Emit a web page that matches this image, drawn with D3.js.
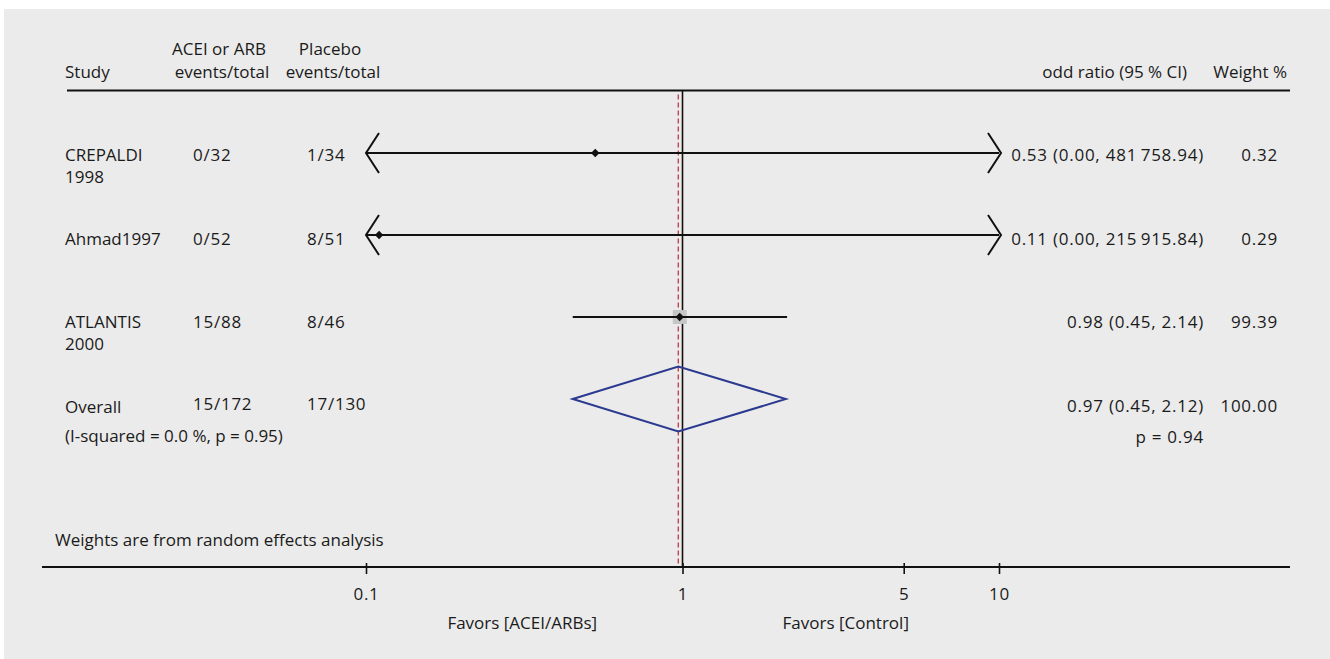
<!DOCTYPE html>
<html>
<head>
<meta charset="utf-8">
<script src="https://cdn.jsdelivr.net/npm/d3@7"></script>
<style>
  html, body { margin: 0; padding: 0; background: #ffffff; }
  svg { display: block; }
  text { font-family: "Open Sans", "Noto Sans", sans-serif; font-size: 17px; fill: #1a1a1a; }
  text.num { letter-spacing: 0.75px; }
</style>
</head>
<body>
<svg id="chart" width="1330" height="659"></svg>
<script>
// Study rows of the forest plot
const studyNames = [["CREPALDI", "1998"], ["Ahmad1997"], ["ATLANTIS", "2000"]];
const treatEvents = ["0/32", "0/52", "15/88"];
const controlEvents = ["1/34", "8/51", "8/46"];
const oddsRatios = [0.53, 0.11, 0.98];
const ciLower = [0.00, 0.00, 0.45];
const ciUpper = [481758.94, 215915.84, 2.14];
const weights = [0.32, 0.29, 99.39];

// Pooled (random effects) estimate
const overallLabel = ["Overall", "(I-squared = 0.0 %, p = 0.95)"];
const overallTreat = "15/172";
const overallControl = "17/130";
const overallOR = 0.97;
const overallLower = 0.45;
const overallUpper = 2.12;
const overallWeight = 100.00;
const overallP = "p = 0.94";

// Axis
const tickValues = [0.1, 1, 5, 10];
const tickLabels = ["0.1", "1", "5", "10"];
const favorLabels = ["Favors [ACEI/ARBs]", "Favors [Control]"];

const headers = {
  study: "Study",
  treat: ["ACEI or ARB", "events/total"],
  control: ["Placebo", "events/total"],
  ci: "odd ratio (95 % CI)",
  weight: "Weight %",
  note: "Weights are from random effects analysis"
};

const svg = d3.select("#chart");
svg.append("rect").attr("x", 4).attr("y", 9).attr("width", 1326).attr("height", 650).attr("fill", "#ebebeb");

const x = d3.scaleLog().domain([0.1, 10]).range([366, 999]);
const nRows = oddsRatios.length + 1;
const markY = d3.scalePoint().domain(d3.range(nRows)).range([153, 399]);
const textY = d3.scalePoint().domain(d3.range(nRows)).range([161, 412]);

const fmt2 = d3.format(".2f");
const fmtBig = v => {
  const s = fmt2(v);
  const [intPart, dec] = s.split(".");
  return intPart.replace(/\B(?=(\d{3})+(?!\d))/g, "\u2009") + "." + dec;
};
const ciText = (o, l, u) => `${fmt2(o)} (${fmtBig(l)}, ${fmtBig(u)})`;

const colStudy = 65, colTreat = 193, colControl = 307, colCI = 1204, colWeight = 1278;
const axisY = 567, headerLineY = 90.5;

// Header
const head = svg.append("g");
head.append("text").attr("x", colStudy).attr("y", 78).text(headers.study);
head.append("text").attr("x", 219).attr("y", 55).attr("text-anchor", "middle").text(headers.treat[0]);
head.append("text").attr("x", 222).attr("y", 78).attr("text-anchor", "middle").text(headers.treat[1]);
head.append("text").attr("x", 330).attr("y", 55).attr("text-anchor", "middle").text(headers.control[0]);
head.append("text").attr("x", 333).attr("y", 78).attr("text-anchor", "middle").text(headers.control[1]);
head.append("text").attr("x", 1187).attr("y", 78).attr("text-anchor", "end").text(headers.ci);
head.append("text").attr("x", 1287).attr("y", 78).attr("text-anchor", "end").text(headers.weight);
head.append("line").attr("x1", 67).attr("x2", 1290).attr("y1", headerLineY).attr("y2", headerLineY)
  .attr("stroke", "#111").attr("stroke-width", 2);

// Reference lines: null effect and pooled estimate
svg.append("line").attr("x1", x(1)).attr("x2", x(1)).attr("y1", headerLineY).attr("y2", axisY)
  .attr("stroke", "#111").attr("stroke-width", 1.6);
svg.append("line").attr("x1", x(overallOR)).attr("x2", x(overallOR)).attr("y1", headerLineY + 4).attr("y2", axisY)
  .attr("stroke", "#c3424c").attr("stroke-width", 1.4).attr("stroke-dasharray", "5,3");

// Study rows
const rows = svg.append("g");
oddsRatios.forEach((or, i) => {
  const y = markY(i), ty = textY(i);
  const g = rows.append("g");
  studyNames[i].forEach((line, k) => {
    g.append("text").attr("x", colStudy).attr("y", ty + k * 22).text(line);
  });
  g.append("text").attr("class", "num").attr("x", colTreat).attr("y", ty).text(treatEvents[i]);
  g.append("text").attr("class", "num").attr("x", colControl).attr("y", ty).text(controlEvents[i]);
  g.append("text").attr("class", "num").attr("x", colCI).attr("y", ty).attr("text-anchor", "end").text(ciText(or, ciLower[i], ciUpper[i]));
  g.append("text").attr("class", "num").attr("x", colWeight).attr("y", ty).attr("text-anchor", "end").text(fmt2(weights[i]));

  // weight box
  const side = Math.sqrt(weights[i]) * 1.4;
  g.append("rect").attr("x", x(or) - side / 2).attr("y", y - side / 2)
    .attr("width", side).attr("height", side).attr("fill", "#c6c6c6");

  const [dMin, dMax] = x.domain();
  const lo = Math.max(ciLower[i], dMin), hi = Math.min(ciUpper[i], dMax);
  g.append("line").attr("x1", x(lo)).attr("x2", x(hi)).attr("y1", y).attr("y2", y)
    .attr("stroke", "#111").attr("stroke-width", 2);
  // arrow heads for intervals running off the axis
  if (ciLower[i] < dMin) {
    const tx = x(dMin);
    g.append("path").attr("d", `M${tx + 13},${y - 20}L${tx},${y}L${tx + 13},${y + 20}`)
      .attr("fill", "none").attr("stroke", "#111").attr("stroke-width", 2);
  }
  if (ciUpper[i] > dMax) {
    const tx = x(dMax) + 2;
    g.append("path").attr("d", `M${tx - 13},${y - 20}L${tx},${y}L${tx - 13},${y + 20}`)
      .attr("fill", "none").attr("stroke", "#111").attr("stroke-width", 2);
  }
  g.append("path").attr("d", d3.symbol(d3.symbolSquare, 36)())
    .attr("transform", `translate(${x(or)},${y}) rotate(45)`).attr("fill", "#111");
});

// Overall row
const oi = oddsRatios.length;
const oy = markY(oi), oty = textY(oi);
const og = svg.append("g");
og.append("text").attr("x", colStudy).attr("y", oty + 1).text(overallLabel[0]);
og.append("text").attr("x", colStudy).attr("y", oty + 30).text(overallLabel[1]);
og.append("text").attr("class", "num").attr("x", colTreat).attr("y", oty - 2).text(overallTreat);
og.append("text").attr("class", "num").attr("x", colControl).attr("y", oty - 2).text(overallControl);
og.append("text").attr("class", "num").attr("x", colCI).attr("y", oty).attr("text-anchor", "end").text(ciText(overallOR, overallLower, overallUpper));
og.append("text").attr("class", "num").attr("x", colWeight).attr("y", oty).attr("text-anchor", "end").text(fmt2(overallWeight));
og.append("text").attr("class", "num").attr("x", colCI).attr("y", oty + 31).attr("text-anchor", "end").text(overallP);
og.append("path")
  .attr("d", `M${x(overallLower)},${oy}L${x(overallOR)},${oy - 32.5}L${x(overallUpper)},${oy}L${x(overallOR)},${oy + 32.5}Z`)
  .attr("fill", "none").attr("stroke", "#2b3990").attr("stroke-width", 2);

// Note
svg.append("text").attr("x", 55).attr("y", 546).text(headers.note);

// Axis
svg.append("line").attr("x1", 42).attr("x2", 1290).attr("y1", axisY).attr("y2", axisY)
  .attr("stroke", "#111").attr("stroke-width", 2);
const axis = d3.axisBottom(x).tickValues(tickValues).tickFormat((d, i) => tickLabels[i]).tickSize(0).tickPadding(0);
const ax = svg.append("g").attr("transform", `translate(0,${axisY})`).call(axis);
ax.select(".domain").remove();
ax.selectAll(".tick line").attr("y1", -4).attr("y2", 7).attr("stroke", "#111").attr("stroke-width", 1.6);
ax.selectAll(".tick text").attr("class", "num").attr("y", 33).attr("dy", null)
  .style("font-family", "'Open Sans', 'Noto Sans', sans-serif").style("font-size", "17px").attr("fill", "#1a1a1a");

svg.append("text").attr("x", (x(0.1) + x(1)) / 2 - 2).attr("y", 629).attr("text-anchor", "middle").text(favorLabels[0]);
svg.append("text").attr("x", (x(1) + x(10)) / 2 + 5).attr("y", 629).attr("text-anchor", "middle").text(favorLabels[1]);
</script>
</body>
</html>
